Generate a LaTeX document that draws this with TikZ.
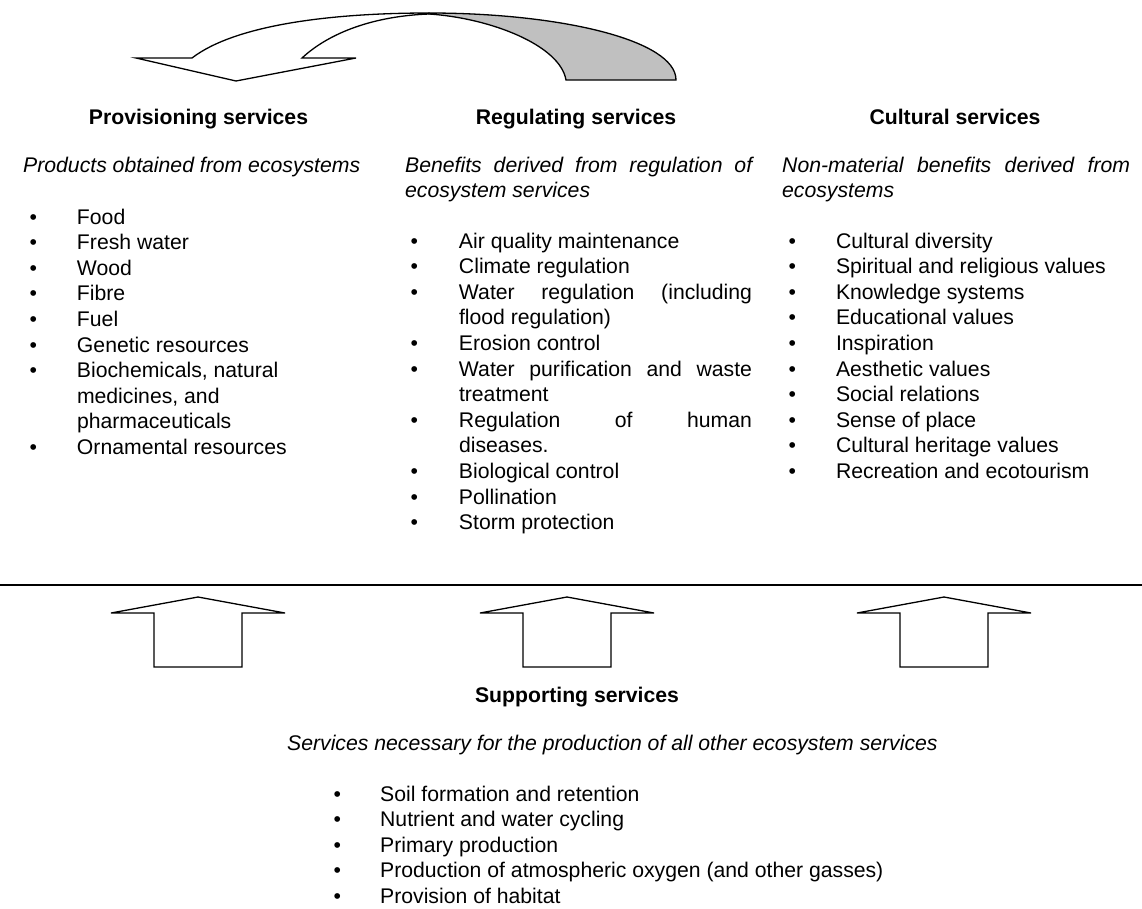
\documentclass[tikz,border=0pt]{standalone}
\usepackage{fontspec}
\setmainfont{Liberation Sans}
\usepackage{array}
\definecolor{backgrey}{RGB}{192,192,192}

\begin{document}
\begin{tikzpicture}[x=1pt, y=-1pt,
  txt/.style={inner sep=0pt, anchor=base west, font=\fontsize{21.2}{25.6}\selectfont},
  head/.style={inner sep=0pt, anchor=base, font=\fontsize{21.2}{25.6}\selectfont\bfseries},
  blk/.style={draw, line width=1.3pt, line join=miter, fill=white}
]
\useasboundingbox (0,0) rectangle (1142,908);

% Curved arrow: back part first
\draw[blk, fill=backgrey] (429,13) .. controls (560,13) and (676,40) .. (676,80)
  -- (566,80) .. controls (560,45) and (490,18) .. (429,14) -- cycle;
% front part with its head
\draw[blk] (192,58) .. controls (235,25) and (330,13) .. (429,13)
  -- (429,14) .. controls (375,16) and (330,32) .. (302,58)
  -- (356,58) -- (236,81) -- (136,58) -- cycle;

% Headings
\node[head] (provhead) at (198.5,124) {Provisioning services};
\node[head] (reghead) at (576,124) {Regulating services};
\node[head] (culthead) at (955,124) {Cultural services};

% Descriptions
\node[txt] (provdesc) at (23,172) {\itshape Products obtained from ecosystems};
\node[txt] (regdesc) at (405,172) {\begin{tabular}[t]{@{}p{347pt}@{}}
  \itshape Benefits derived from regulation of\linebreak ecosystem services
\end{tabular}};
\node[txt] (cultdesc) at (782,172) {\begin{tabular}[t]{@{}p{348pt}@{}}
  \itshape Non-material benefits derived from\linebreak ecosystems
\end{tabular}};

% Lists
\node[txt] (provlist) at (29.3,224) {\begin{tabular}[t]{@{}p{47.5pt}@{}p{300pt}@{}}
  \textbullet & Food\\
  \textbullet & Fresh water\\
  \textbullet & Wood\\
  \textbullet & Fibre\\
  \textbullet & Fuel\\
  \textbullet & Genetic resources\\
  \textbullet & Biochemicals, natural\newline medicines, and\newline pharmaceuticals\\
  \textbullet & Ornamental resources
\end{tabular}};
\node[txt] (reglist) at (410.3,248) {\begin{tabular}[t]{@{}p{48.5pt}@{}p{293pt}@{}}
  \textbullet & Air quality maintenance\\
  \textbullet & Climate regulation\\
  \textbullet & Water regulation (including\linebreak flood regulation)\\
  \textbullet & Erosion control\\
  \textbullet & Water purification and waste\linebreak treatment\\
  \textbullet & Regulation of human\linebreak diseases.\\
  \textbullet & Biological control\\
  \textbullet & Pollination\\
  \textbullet & Storm protection
\end{tabular}};
\node[txt] (cultlist) at (788.3,248) {\begin{tabular}[t]{@{}p{47.5pt}@{}p{300pt}@{}}
  \textbullet & Cultural diversity\\
  \textbullet & Spiritual and religious values\\
  \textbullet & Knowledge systems\\
  \textbullet & Educational values\\
  \textbullet & Inspiration\\
  \textbullet & Aesthetic values\\
  \textbullet & Social relations\\
  \textbullet & Sense of place\\
  \textbullet & Cultural heritage values\\
  \textbullet & Recreation and ecotourism
\end{tabular}};

% Divider line
\draw[line width=2pt] (0,585) -- (1142,585);

% Up arrows
\foreach \cx in {198,567,944}{
  \draw[blk] (\cx-44,667) -- (\cx-44,613) -- (\cx-87,613) -- (\cx,597)
    -- (\cx+87,613) -- (\cx+44,613) -- (\cx+44,667) -- cycle;
}

% Supporting services
\node[head] (supphead) at (577,702) {Supporting services};
\node[txt] (suppdesc) at (287,750) {\itshape Services necessary for the production of all other ecosystem services};
\node[txt] (supplist) at (333.3,801) {\begin{tabular}[t]{@{}p{46.7pt}@{}p{600pt}@{}}
  \textbullet & Soil formation and retention\\
  \textbullet & Nutrient and water cycling\\
  \textbullet & Primary production\\
  \textbullet & Production of atmospheric oxygen (and other gasses)\\
  \textbullet & Provision of habitat
\end{tabular}};

\end{tikzpicture}
\end{document}
